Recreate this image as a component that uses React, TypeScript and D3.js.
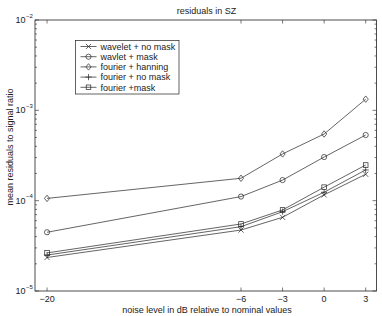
import React from "react";
import * as d3 from "d3";

const noiseLevels = [-20, -6, -3, 0, 3];
const xTickLabels = ["\u221220", "\u22126", "\u22123", "0", "3"];
const waveletNoMask = [2.35e-5, 4.73e-5, 6.54e-5, 1.16e-4, 1.96e-4];
const waveletMask = [4.47e-5, 1.11e-4, 1.69e-4, 3.04e-4, 5.33e-4];
const fourierHanning = [1.06e-4, 1.77e-4, 3.29e-4, 5.47e-4, 1.33e-3];
const fourierNoMask = [2.5e-5, 5.15e-5, 7.55e-5, 1.24e-4, 2.19e-4];
const fourierMask = [2.64e-5, 5.52e-5, 7.89e-5, 1.41e-4, 2.48e-4];
const seriesNames = ["wavelet + no mask", "wavlet + mask", "fourier + hanning", "fourier + no mask", "fourier +mask"];
const yTickExps = [-5, -4, -3, -2];

const series = [
  { name: seriesNames[0], values: waveletNoMask, marker: "x" },
  { name: seriesNames[1], values: waveletMask, marker: "o" },
  { name: seriesNames[2], values: fourierHanning, marker: "d" },
  { name: seriesNames[3], values: fourierNoMask, marker: "+" },
  { name: seriesNames[4], values: fourierMask, marker: "s" },
];

const W = 382, H = 316;
const L = 35, R = 376.5, T = 20, B = 291;
const font = "'Liberation Sans', Arial, sans-serif";
const col = "#222";
const txt = "#222";

function Marker({ type, x, y }: { type: string; x: number; y: number }) {
  const s = 2.6;
  const p = { stroke: col, strokeWidth: 0.7, fill: "none" };
  if (type === "x") return <path d={`M${x - s},${y - s}L${x + s},${y + s}M${x - s},${y + s}L${x + s},${y - s}`} {...p} />;
  if (type === "+") return <path d={`M${x - s - 0.5},${y}L${x + s + 0.5},${y}M${x},${y - s - 0.5}L${x},${y + s + 0.5}`} {...p} />;
  if (type === "o") return <circle cx={x} cy={y} r={s} {...p} />;
  if (type === "d") return <path d={`M${x},${y - s - 0.6}L${x + s},${y}L${x},${y + s + 0.6}L${x - s},${y}Z`} {...p} />;
  return <rect x={x - s + 0.3} y={y - s + 0.3} width={2 * s - 0.6} height={2 * s - 0.6} {...p} />;
}

export default function App() {
  const x = d3.scaleLinear().domain([-20.87, 3.78]).range([L, R]);
  const y = d3.scaleLog().domain([1e-5, 1e-2]).range([B, T]);
  const line = d3.line<number>().x((_, i) => x(noiseLevels[i])).y((v) => y(v));

  const minor: number[] = [];
  for (let e = -5; e < -2; e++) for (let m = 2; m <= 9; m++) minor.push(m * Math.pow(10, e));

  const legX = 75.5, legY = 40.5, legW = 103.5, legH = 53.5;

  return (
    <svg width={W} height={H} style={{ position: "absolute", left: 0, top: 0, background: "#fff" }} fontFamily={font}>
      <rect x={0} y={0} width={W} height={H} fill="#fff" />
      {series.map((s) => (
        <g key={s.name}>
          <path d={line(s.values) || ""} fill="none" stroke={col} strokeWidth={0.7} />
          {s.values.map((v, i) => (
            <Marker key={i} type={s.marker} x={x(noiseLevels[i])} y={y(v)} />
          ))}
        </g>
      ))}
      <rect x={L} y={T} width={R - L} height={B - T} fill="none" stroke={col} strokeWidth={0.8} />
      {noiseLevels.map((n, i) => (
        <g key={n}>
          <line x1={x(n)} x2={x(n)} y1={B} y2={B - 3.5} stroke={col} strokeWidth={0.6} />
          <line x1={x(n)} x2={x(n)} y1={T} y2={T + 3.5} stroke={col} strokeWidth={0.6} />
          <text x={x(n)} y={302} fontSize={9} textAnchor="middle" fill={txt}>{xTickLabels[i]}</text>
        </g>
      ))}
      {yTickExps.map((e) => (
        <g key={e}>
          <line x1={L} x2={L + 4} y1={y(Math.pow(10, e))} y2={y(Math.pow(10, e))} stroke={col} strokeWidth={0.6} />
          <line x1={R} x2={R - 4} y1={y(Math.pow(10, e))} y2={y(Math.pow(10, e))} stroke={col} strokeWidth={0.6} />
          <text x={25.5} y={y(Math.pow(10, e)) + 3} fontSize={9} textAnchor="end" fill={txt}>10</text>
          <text x={26} y={y(Math.pow(10, e)) - 2.5} fontSize={6} textAnchor="start" fill={txt}>{"\u2212" + Math.abs(e)}</text>
        </g>
      ))}
      {minor.map((v, i) => (
        <g key={i}>
          <line x1={L} x2={L + 2} y1={y(v)} y2={y(v)} stroke={col} strokeWidth={0.6} />
          <line x1={R} x2={R - 2} y1={y(v)} y2={y(v)} stroke={col} strokeWidth={0.6} />
        </g>
      ))}
      <rect x={legX} y={legY} width={legW} height={legH} fill="#fff" stroke={col} strokeWidth={0.7} />
      {series.map((s, i) => {
        const cy = legY + 6 + i * 10.2;
        return (
          <g key={s.name}>
            <line x1={legX + 5} x2={legX + 21} y1={cy} y2={cy} stroke={col} strokeWidth={0.7} />
            <Marker type={s.marker} x={legX + 13} y={cy} />
            <text x={legX + 25} y={cy + 3.2} fontSize={9} fill={txt}>{s.name}</text>
          </g>
        );
      })}
      <text x={206.5} y={14} fontSize={9} textAnchor="middle" fill={txt}>residuals in SZ</text>
      <text x={207} y={312.5} fontSize={9} textAnchor="middle" fill={txt}>noise level in dB relative to nominal values</text>
      <text transform={`translate(13,147) rotate(-90)`} fontSize={9} textAnchor="middle" fill={txt}>mean residuals to signal ratio</text>
    </svg>
  );
}
